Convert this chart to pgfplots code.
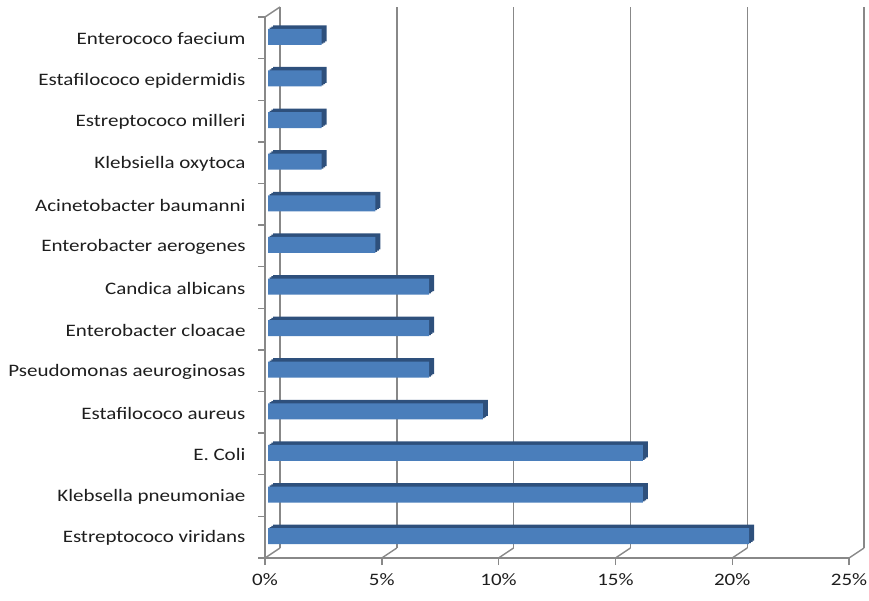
\documentclass[border=0pt]{standalone}
\usepackage{pgfplots}
\pgfplotsset{compat=1.18}
\usepackage{fontspec}
\setmainfont{Carlito}
\newfontfamily\labelfont[FakeStretch=1.2]{Carlito}
\definecolor{barfront}{RGB}{74,126,187}
\definecolor{barside}{RGB}{46,80,124}
\definecolor{gridc}{RGB}{136,136,136}
\definecolor{txt}{RGB}{30,30,30}
\pgfplotstableread{
val pos
20.6 0
16.05 1
16.05 2
9.2 3
6.9 4
6.9 5
6.9 6
4.6 7
4.6 8
2.3 9
2.3 10
2.3 11
2.3 12
}\bardata
\begin{document}
\begin{tikzpicture}
\path[use as bounding box] (0pt,0pt) rectangle (869pt,600pt);
\begin{axis}[
  at={(265pt,42pt)}, anchor=south west,
  scale only axis, width=584pt, height=541pt,
  xmin=0, xmax=25, ymin=-0.5, ymax=12.5,
  clip=false,
  axis x line*=bottom, axis y line*=left,
  axis line style={gridc, line width=1.4pt},
  every tick/.style={gridc, line width=1.4pt},
  tick align=outside,
  major tick length=0pt, minor tick length=7pt,
  xtick={0,5,...,25},
  xticklabels={0\%,5\%,10\%,15\%,20\%,25\%},
  minor xtick={0,5,...,25},
  ytick={0,...,12},
  yticklabels={Estreptococo viridans, Klebsella pneumoniae, E. Coli, Estafilococo aureus, Pseudomonas aeuroginosas, Enterobacter cloacae, Candica albicans, Enterobacter aerogenes, Acinetobacter baumanni, Klebsiella oxytoca, Estreptococo milleri, Estafilococo epidermidis, Enterococo faecium},
  minor ytick={-0.5,0.5,...,12.5},
  tick label style={font=\labelfont\fontsize{17.5}{20}\selectfont, text=txt},
  yticklabel style={xshift=-16pt, yshift=-1pt},
  xticklabel style={yshift=-12pt},
  xmajorgrids,
  major grid style={gridc, line width=1.4pt, xshift=15pt, yshift=10pt},
  bar3d/.style={xbar, bar shift=0pt, bar width=16pt, draw=none},
]
\addplot[bar3d, fill=barside, xshift=8pt, yshift=4.5pt] table[x=val, y=pos] {\bardata};
\addplot[bar3d, fill=barside, xshift=6.3pt, yshift=3.3pt] table[x=val, y=pos] {\bardata};
\addplot[bar3d, fill=barside, xshift=4.6pt, yshift=2.1pt] table[x=val, y=pos] {\bardata};
\addplot[bar3d, fill=barfront, xshift=3pt, yshift=1pt] table[x=val, y=pos] {\bardata};
\draw[gridc, line width=1.4pt] (axis cs:0,12.5) -- ++(15pt,10pt);
\draw[gridc, line width=1.4pt] (axis cs:0,-0.5) -- ++(15pt,10pt);
\draw[gridc, line width=1.4pt] (axis cs:5,-0.5) -- ++(15pt,10pt);
\draw[gridc, line width=1.4pt] (axis cs:10,-0.5) -- ++(15pt,10pt);
\draw[gridc, line width=1.4pt] (axis cs:15,-0.5) -- ++(15pt,10pt);
\draw[gridc, line width=1.4pt] (axis cs:20,-0.5) -- ++(15pt,10pt);
\draw[gridc, line width=1.4pt] (axis cs:25,-0.5) -- ++(15pt,10pt);
\end{axis}
\end{tikzpicture}
\end{document}
